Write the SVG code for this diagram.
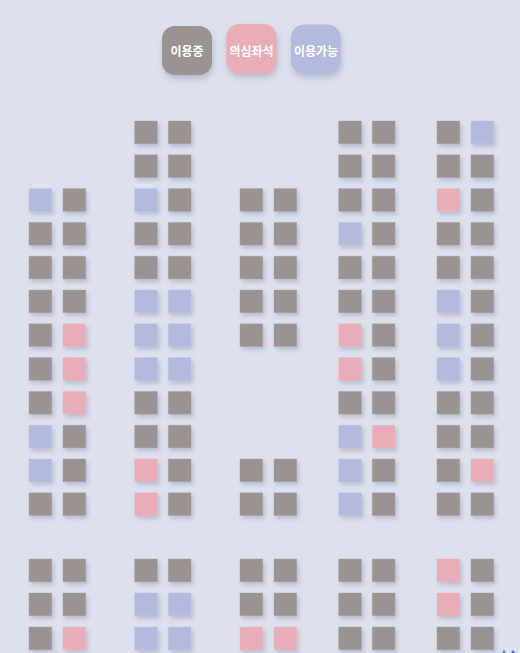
<svg xmlns="http://www.w3.org/2000/svg" width="520" height="653" viewBox="0 0 520 653">
<defs>
<filter id="sh" x="-40%" y="-40%" width="200%" height="200%"><feDropShadow dx="2" dy="3" stdDeviation="2.2" flood-color="#5a6080" flood-opacity="0.28"/></filter>
<filter id="lsh" x="-30%" y="-30%" width="170%" height="170%"><feDropShadow dx="1" dy="4" stdDeviation="3" flood-color="#5a6080" flood-opacity="0.3"/></filter>
</defs>
<style>
.g{fill:#9a9391}.p{fill:#e8adb7}.b{fill:#b3badd}
rect.s{filter:url(#sh);stroke-width:0.8;stroke-opacity:0.5}
rect.g.s{stroke:#a9a3a2}rect.p.s{stroke:#edbcc4}rect.b.s{stroke:#c0c6e4}
.lg{filter:url(#lsh)}
.lt{font-family:"Noto Sans CJK KR","Noto Sans",sans-serif;font-size:12px;font-weight:700;fill:#ffffff;text-anchor:middle;dominant-baseline:central}
</style>
<rect width="520" height="653" fill="#dde1ee"/>
<g id="legend">
<g id="leg-used"><rect class="g lg" x="162" y="26" width="50" height="49" rx="13"/><text class="lt" x="187" y="50.3">이용중</text></g>
<g id="leg-suspect"><rect class="p lg" x="226.3" y="24" width="50.4" height="49.5" rx="13"/><text class="lt" x="251.5" y="50">의심좌석</text></g>
<g id="leg-free"><rect class="b lg" x="291" y="24.5" width="49.7" height="49" rx="13"/><text class="lt" x="316" y="50">이용가능</text></g>
</g>
<g id="seats">
<g id="block1">
<g id="b1-r2-1"><rect class="s b" x="29" y="188.6" width="22.7" height="22.7"/></g><g id="b1-r2-2"><rect class="s g" x="63" y="188.6" width="22.7" height="22.7"/></g>
<g id="b1-r3-1"><rect class="s g" x="29" y="222.4" width="22.7" height="22.7"/></g><g id="b1-r3-2"><rect class="s g" x="63" y="222.4" width="22.7" height="22.7"/></g>
<g id="b1-r4-1"><rect class="s g" x="29" y="256.2" width="22.7" height="22.7"/></g><g id="b1-r4-2"><rect class="s g" x="63" y="256.2" width="22.7" height="22.7"/></g>
<g id="b1-r5-1"><rect class="s g" x="29" y="290" width="22.7" height="22.7"/></g><g id="b1-r5-2"><rect class="s g" x="63" y="290" width="22.7" height="22.7"/></g>
<g id="b1-r6-1"><rect class="s g" x="29" y="323.8" width="22.7" height="22.7"/></g><g id="b1-r6-2"><rect class="s p" x="63" y="323.8" width="22.7" height="22.7"/></g>
<g id="b1-r7-1"><rect class="s g" x="29" y="357.6" width="22.7" height="22.7"/></g><g id="b1-r7-2"><rect class="s p" x="63" y="357.6" width="22.7" height="22.7"/></g>
<g id="b1-r8-1"><rect class="s g" x="29" y="391.4" width="22.7" height="22.7"/></g><g id="b1-r8-2"><rect class="s p" x="63" y="391.4" width="22.7" height="22.7"/></g>
<g id="b1-r9-1"><rect class="s b" x="29" y="425.2" width="22.7" height="22.7"/></g><g id="b1-r9-2"><rect class="s g" x="63" y="425.2" width="22.7" height="22.7"/></g>
<g id="b1-r10-1"><rect class="s b" x="29" y="459" width="22.7" height="22.7"/></g><g id="b1-r10-2"><rect class="s g" x="63" y="459" width="22.7" height="22.7"/></g>
<g id="b1-r11-1"><rect class="s g" x="29" y="492.8" width="22.7" height="22.7"/></g><g id="b1-r11-2"><rect class="s g" x="63" y="492.8" width="22.7" height="22.7"/></g>
<g id="b1-r12-1"><rect class="s g" x="29" y="559" width="22.7" height="22.7"/></g><g id="b1-r12-2"><rect class="s g" x="63" y="559" width="22.7" height="22.7"/></g>
<g id="b1-r13-1"><rect class="s g" x="29" y="593" width="22.7" height="22.7"/></g><g id="b1-r13-2"><rect class="s g" x="63" y="593" width="22.7" height="22.7"/></g>
<g id="b1-r14-1"><rect class="s g" x="29" y="627" width="22.7" height="22.7"/></g><g id="b1-r14-2"><rect class="s p" x="63" y="627" width="22.7" height="22.7"/></g>
</g>
<g id="block2">
<g id="b2-r0-1"><rect class="s g" x="134.7" y="121" width="22.7" height="22.7"/></g><g id="b2-r0-2"><rect class="s g" x="168.3" y="121" width="22.7" height="22.7"/></g>
<g id="b2-r1-1"><rect class="s g" x="134.7" y="154.8" width="22.7" height="22.7"/></g><g id="b2-r1-2"><rect class="s g" x="168.3" y="154.8" width="22.7" height="22.7"/></g>
<g id="b2-r2-1"><rect class="s b" x="134.7" y="188.6" width="22.7" height="22.7"/></g><g id="b2-r2-2"><rect class="s g" x="168.3" y="188.6" width="22.7" height="22.7"/></g>
<g id="b2-r3-1"><rect class="s g" x="134.7" y="222.4" width="22.7" height="22.7"/></g><g id="b2-r3-2"><rect class="s g" x="168.3" y="222.4" width="22.7" height="22.7"/></g>
<g id="b2-r4-1"><rect class="s g" x="134.7" y="256.2" width="22.7" height="22.7"/></g><g id="b2-r4-2"><rect class="s g" x="168.3" y="256.2" width="22.7" height="22.7"/></g>
<g id="b2-r5-1"><rect class="s b" x="134.7" y="290" width="22.7" height="22.7"/></g><g id="b2-r5-2"><rect class="s b" x="168.3" y="290" width="22.7" height="22.7"/></g>
<g id="b2-r6-1"><rect class="s b" x="134.7" y="323.8" width="22.7" height="22.7"/></g><g id="b2-r6-2"><rect class="s b" x="168.3" y="323.8" width="22.7" height="22.7"/></g>
<g id="b2-r7-1"><rect class="s b" x="134.7" y="357.6" width="22.7" height="22.7"/></g><g id="b2-r7-2"><rect class="s b" x="168.3" y="357.6" width="22.7" height="22.7"/></g>
<g id="b2-r8-1"><rect class="s g" x="134.7" y="391.4" width="22.7" height="22.7"/></g><g id="b2-r8-2"><rect class="s g" x="168.3" y="391.4" width="22.7" height="22.7"/></g>
<g id="b2-r9-1"><rect class="s g" x="134.7" y="425.2" width="22.7" height="22.7"/></g><g id="b2-r9-2"><rect class="s g" x="168.3" y="425.2" width="22.7" height="22.7"/></g>
<g id="b2-r10-1"><rect class="s p" x="134.7" y="459" width="22.7" height="22.7"/></g><g id="b2-r10-2"><rect class="s g" x="168.3" y="459" width="22.7" height="22.7"/></g>
<g id="b2-r11-1"><rect class="s p" x="134.7" y="492.8" width="22.7" height="22.7"/></g><g id="b2-r11-2"><rect class="s g" x="168.3" y="492.8" width="22.7" height="22.7"/></g>
<g id="b2-r12-1"><rect class="s g" x="134.7" y="559" width="22.7" height="22.7"/></g><g id="b2-r12-2"><rect class="s g" x="168.3" y="559" width="22.7" height="22.7"/></g>
<g id="b2-r13-1"><rect class="s b" x="134.7" y="593" width="22.7" height="22.7"/></g><g id="b2-r13-2"><rect class="s b" x="168.3" y="593" width="22.7" height="22.7"/></g>
<g id="b2-r14-1"><rect class="s b" x="134.7" y="627" width="22.7" height="22.7"/></g><g id="b2-r14-2"><rect class="s b" x="168.3" y="627" width="22.7" height="22.7"/></g>
</g>
<g id="block3">
<g id="b3-r2-1"><rect class="s g" x="240" y="188.6" width="22.7" height="22.7"/></g><g id="b3-r2-2"><rect class="s g" x="274" y="188.6" width="22.7" height="22.7"/></g>
<g id="b3-r3-1"><rect class="s g" x="240" y="222.4" width="22.7" height="22.7"/></g><g id="b3-r3-2"><rect class="s g" x="274" y="222.4" width="22.7" height="22.7"/></g>
<g id="b3-r4-1"><rect class="s g" x="240" y="256.2" width="22.7" height="22.7"/></g><g id="b3-r4-2"><rect class="s g" x="274" y="256.2" width="22.7" height="22.7"/></g>
<g id="b3-r5-1"><rect class="s g" x="240" y="290" width="22.7" height="22.7"/></g><g id="b3-r5-2"><rect class="s g" x="274" y="290" width="22.7" height="22.7"/></g>
<g id="b3-r6-1"><rect class="s g" x="240" y="323.8" width="22.7" height="22.7"/></g><g id="b3-r6-2"><rect class="s g" x="274" y="323.8" width="22.7" height="22.7"/></g>
<g id="b3-r10-1"><rect class="s g" x="240" y="459" width="22.7" height="22.7"/></g><g id="b3-r10-2"><rect class="s g" x="274" y="459" width="22.7" height="22.7"/></g>
<g id="b3-r11-1"><rect class="s g" x="240" y="492.8" width="22.7" height="22.7"/></g><g id="b3-r11-2"><rect class="s g" x="274" y="492.8" width="22.7" height="22.7"/></g>
<g id="b3-r12-1"><rect class="s g" x="240" y="559" width="22.7" height="22.7"/></g><g id="b3-r12-2"><rect class="s g" x="274" y="559" width="22.7" height="22.7"/></g>
<g id="b3-r13-1"><rect class="s g" x="240" y="593" width="22.7" height="22.7"/></g><g id="b3-r13-2"><rect class="s g" x="274" y="593" width="22.7" height="22.7"/></g>
<g id="b3-r14-1"><rect class="s p" x="240" y="627" width="22.7" height="22.7"/></g><g id="b3-r14-2"><rect class="s p" x="274" y="627" width="22.7" height="22.7"/></g>
</g>
<g id="block4">
<g id="b4-r0-1"><rect class="s g" x="338.7" y="121" width="22.7" height="22.7"/></g><g id="b4-r0-2"><rect class="s g" x="372.3" y="121" width="22.7" height="22.7"/></g>
<g id="b4-r1-1"><rect class="s g" x="338.7" y="154.8" width="22.7" height="22.7"/></g><g id="b4-r1-2"><rect class="s g" x="372.3" y="154.8" width="22.7" height="22.7"/></g>
<g id="b4-r2-1"><rect class="s g" x="338.7" y="188.6" width="22.7" height="22.7"/></g><g id="b4-r2-2"><rect class="s g" x="372.3" y="188.6" width="22.7" height="22.7"/></g>
<g id="b4-r3-1"><rect class="s b" x="338.7" y="222.4" width="22.7" height="22.7"/></g><g id="b4-r3-2"><rect class="s g" x="372.3" y="222.4" width="22.7" height="22.7"/></g>
<g id="b4-r4-1"><rect class="s g" x="338.7" y="256.2" width="22.7" height="22.7"/></g><g id="b4-r4-2"><rect class="s g" x="372.3" y="256.2" width="22.7" height="22.7"/></g>
<g id="b4-r5-1"><rect class="s g" x="338.7" y="290" width="22.7" height="22.7"/></g><g id="b4-r5-2"><rect class="s g" x="372.3" y="290" width="22.7" height="22.7"/></g>
<g id="b4-r6-1"><rect class="s p" x="338.7" y="323.8" width="22.7" height="22.7"/></g><g id="b4-r6-2"><rect class="s g" x="372.3" y="323.8" width="22.7" height="22.7"/></g>
<g id="b4-r7-1"><rect class="s p" x="338.7" y="357.6" width="22.7" height="22.7"/></g><g id="b4-r7-2"><rect class="s g" x="372.3" y="357.6" width="22.7" height="22.7"/></g>
<g id="b4-r8-1"><rect class="s g" x="338.7" y="391.4" width="22.7" height="22.7"/></g><g id="b4-r8-2"><rect class="s g" x="372.3" y="391.4" width="22.7" height="22.7"/></g>
<g id="b4-r9-1"><rect class="s b" x="338.7" y="425.2" width="22.7" height="22.7"/></g><g id="b4-r9-2"><rect class="s p" x="372.3" y="425.2" width="22.7" height="22.7"/></g>
<g id="b4-r10-1"><rect class="s b" x="338.7" y="459" width="22.7" height="22.7"/></g><g id="b4-r10-2"><rect class="s g" x="372.3" y="459" width="22.7" height="22.7"/></g>
<g id="b4-r11-1"><rect class="s b" x="338.7" y="492.8" width="22.7" height="22.7"/></g><g id="b4-r11-2"><rect class="s g" x="372.3" y="492.8" width="22.7" height="22.7"/></g>
<g id="b4-r12-1"><rect class="s g" x="338.7" y="559" width="22.7" height="22.7"/></g><g id="b4-r12-2"><rect class="s g" x="372.3" y="559" width="22.7" height="22.7"/></g>
<g id="b4-r13-1"><rect class="s g" x="338.7" y="593" width="22.7" height="22.7"/></g><g id="b4-r13-2"><rect class="s g" x="372.3" y="593" width="22.7" height="22.7"/></g>
<g id="b4-r14-1"><rect class="s g" x="338.7" y="627" width="22.7" height="22.7"/></g><g id="b4-r14-2"><rect class="s g" x="372.3" y="627" width="22.7" height="22.7"/></g>
</g>
<g id="block5">
<g id="b5-r0-1"><rect class="s g" x="437" y="121" width="22.7" height="22.7"/></g><g id="b5-r0-2"><rect class="s b" x="471" y="121" width="22.7" height="22.7"/></g>
<g id="b5-r1-1"><rect class="s g" x="437" y="154.8" width="22.7" height="22.7"/></g><g id="b5-r1-2"><rect class="s g" x="471" y="154.8" width="22.7" height="22.7"/></g>
<g id="b5-r2-1"><rect class="s p" x="437" y="188.6" width="22.7" height="22.7"/></g><g id="b5-r2-2"><rect class="s g" x="471" y="188.6" width="22.7" height="22.7"/></g>
<g id="b5-r3-1"><rect class="s g" x="437" y="222.4" width="22.7" height="22.7"/></g><g id="b5-r3-2"><rect class="s g" x="471" y="222.4" width="22.7" height="22.7"/></g>
<g id="b5-r4-1"><rect class="s g" x="437" y="256.2" width="22.7" height="22.7"/></g><g id="b5-r4-2"><rect class="s g" x="471" y="256.2" width="22.7" height="22.7"/></g>
<g id="b5-r5-1"><rect class="s b" x="437" y="290" width="22.7" height="22.7"/></g><g id="b5-r5-2"><rect class="s g" x="471" y="290" width="22.7" height="22.7"/></g>
<g id="b5-r6-1"><rect class="s b" x="437" y="323.8" width="22.7" height="22.7"/></g><g id="b5-r6-2"><rect class="s g" x="471" y="323.8" width="22.7" height="22.7"/></g>
<g id="b5-r7-1"><rect class="s b" x="437" y="357.6" width="22.7" height="22.7"/></g><g id="b5-r7-2"><rect class="s g" x="471" y="357.6" width="22.7" height="22.7"/></g>
<g id="b5-r8-1"><rect class="s g" x="437" y="391.4" width="22.7" height="22.7"/></g><g id="b5-r8-2"><rect class="s g" x="471" y="391.4" width="22.7" height="22.7"/></g>
<g id="b5-r9-1"><rect class="s g" x="437" y="425.2" width="22.7" height="22.7"/></g><g id="b5-r9-2"><rect class="s g" x="471" y="425.2" width="22.7" height="22.7"/></g>
<g id="b5-r10-1"><rect class="s g" x="437" y="459" width="22.7" height="22.7"/></g><g id="b5-r10-2"><rect class="s p" x="471" y="459" width="22.7" height="22.7"/></g>
<g id="b5-r11-1"><rect class="s g" x="437" y="492.8" width="22.7" height="22.7"/></g><g id="b5-r11-2"><rect class="s g" x="471" y="492.8" width="22.7" height="22.7"/></g>
<g id="b5-r12-1"><rect class="s p" x="437" y="559" width="22.7" height="22.7"/></g><g id="b5-r12-2"><rect class="s g" x="471" y="559" width="22.7" height="22.7"/></g>
<g id="b5-r13-1"><rect class="s p" x="437" y="593" width="22.7" height="22.7"/></g><g id="b5-r13-2"><rect class="s g" x="471" y="593" width="22.7" height="22.7"/></g>
<g id="b5-r14-1"><rect class="s g" x="437" y="627" width="22.7" height="22.7"/></g><g id="b5-r14-2"><rect class="s g" x="471" y="627" width="22.7" height="22.7"/></g>
</g>
</g>
<g id="corner-mark" fill="#3c6fd6">
<path d="M502.3 653 L504 649.8 L505.7 653 Z"/>
<path d="M511 653 L513 649.8 L515 653 Z"/>
</g>
</svg>
